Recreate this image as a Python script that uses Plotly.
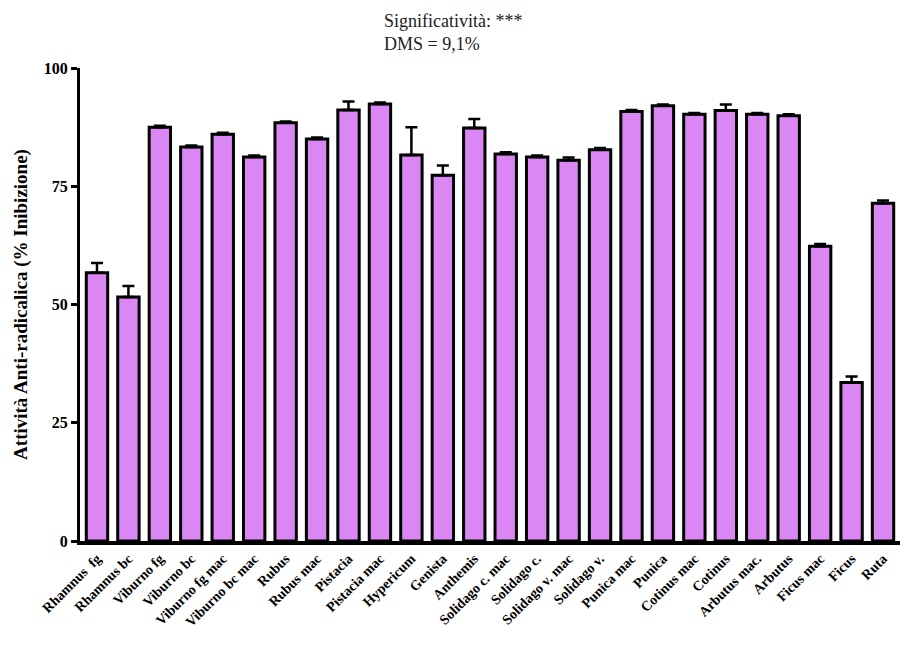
import plotly.graph_objects as go

categories = ["Rhamnus  fg", "Rhamnus bc", "Viburno fg", "Viburno bc", "Viburno fg mac",
              "Viburno bc mac", "Rubus", "Rubus mac", "Pistacia", "Pistacia mac",
              "Hypericum", "Genista", "Anthemis", "Solidago c. mac", "Solidago c.",
              "Solidago v. mac", "Solidago v.", "Punica mac", "Punica", "Cotinus mac",
              "Cotinus", "Arbutus mac.", "Arbutus", "Ficus mac", "Ficus", "Ruta"]
values = [56.7, 51.6, 87.5, 83.3, 86.0, 81.2, 88.4, 85.0, 91.1, 92.4,
          81.6, 77.3, 87.3, 81.8, 81.2, 80.5, 82.7, 90.8, 92.0, 90.2,
          91.0, 90.2, 89.9, 62.3, 33.5, 71.4]
errors = [2.1, 2.3, 0.3, 0.3, 0.3, 0.3, 0.3, 0.3, 1.8, 0.3,
          5.9, 2.1, 1.9, 0.4, 0.3, 0.6, 0.4, 0.3, 0.3, 0.3,
          1.3, 0.3, 0.3, 0.5, 1.3, 0.6]
yticks = [0, 25, 50, 75, 100]

serif = "Liberation Serif, Times New Roman, serif"

fig = go.Figure(go.Bar(
    x=list(range(len(categories))), y=values,
    width=0.68,
    marker=dict(color="#DB87F3", line=dict(color="black", width=3)),
    error_y=dict(type="data", symmetric=False, array=errors,
                 arrayminus=[0] * len(errors), color="black", thickness=2.5, width=6),
))

fig.update_layout(
    width=904, height=655,
    margin=dict(l=80, r=4, t=68, b=114),
    plot_bgcolor="white", paper_bgcolor="white",
    showlegend=False,
    font=dict(family=serif, color="black"),
    annotations=[dict(text="Significatività: ***<br>DMS = 9,1%", xref="paper", yref="paper",
                      x=0.455, y=1.0, yshift=12, showarrow=False, align="left",
                      xanchor="center", yanchor="bottom",
                      font=dict(family=serif, size=18, color="#222"))],
)
fig.update_xaxes(
    range=[-0.54, 25.54], tickmode="array",
    tickvals=list(range(len(categories))), ticktext=[f"<b>{c}</b>" for c in categories],
    tickangle=-45, tickfont=dict(family=serif, size=14),
    showline=True, linecolor="black", linewidth=4, showgrid=False, zeroline=False,
    ticks="",
)
fig.update_yaxes(
    range=[0, 100], tickmode="array", tickvals=yticks,
    ticktext=[f"<b>{t}</b>" for t in yticks], tickfont=dict(family=serif, size=16),
    showline=True, linecolor="black", linewidth=3, showgrid=False, zeroline=False,
    ticks="outside", ticklen=6, tickwidth=3, tickcolor="black",
    title=dict(text="<b>Attività Anti-radicalica (% Inibizione)</b>",
               font=dict(family=serif, size=19), standoff=12),
)

fig.write_html("out.html")
